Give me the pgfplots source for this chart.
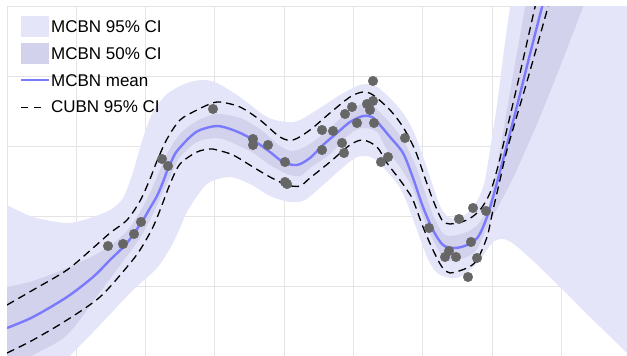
\documentclass[border=0pt]{standalone}
\usepackage{fontspec}
\setmainfont{Liberation Sans}
\usepackage{pgfplots}
\pgfplotsset{compat=1.18}
\usepgfplotslibrary{fillbetween}
\definecolor{ciA}{RGB}{229,229,249}
\definecolor{ciB}{RGB}{210,210,236}
\definecolor{meanc}{RGB}{122,122,255}
\definecolor{dotc}{RGB}{102,102,102}
\definecolor{gridc}{RGB}{228,228,228}
\begin{document}
\begin{tikzpicture}
\begin{axis}[
  scale only axis, width=620pt, height=349pt,
  xmin=7, xmax=627, ymin=7, ymax=356, y dir=reverse,
  clip bounding box=upper bound,
  xtick={7,76.3,145.6,214.9,284.2,353.5,422.8,492.1,561.4},
  ytick={7,77,147,217,287},
  xticklabels={}, yticklabels={},
  major tick length=0pt,
  grid=major, major grid style={gridc, line width=1pt},
  axis line style={draw=none},
  legend cell align=left,
  legend style={draw=none, fill=none, at={(0,1)}, anchor=north west,
    xshift=13pt, yshift=-8.5pt, font=\fontsize{17}{20}\selectfont,
    inner sep=0pt, row sep=3.4pt, column sep=0.5pt, nodes={inner sep=0pt}},
]
% MCBN 95% CI
\addplot[name path=uA, draw=none, forget plot, smooth] coordinates {
(7,205)(33,217)(67,223)(90,218)(110,210)(123,198)(133,172)(143,138)(153,112)(167,94)(187,83)(203,80)(217,83)(240,97)(267,117)(287,122)(300,120)(320,108)(340,95)(357,86)(367,84)(377,87)(390,98)(403,113)(413,130)(420,148)(427,168)(433,186)(440,206)(447,216)(455,219)(465,215)(473,207)(480,195)(485,180)(490,150)(497,105)(504,50)(510,7)(516,-40)(650,-40)};
\addplot[name path=lA, draw=none, forget plot, smooth] coordinates {
(7,420)(40,390)(70,356)(100,325)(133,290)(157,268)(173,243)(187,212)(200,192)(210,182)(230,177)(250,184)(270,196)(290,202)(305,200)(323,185)(340,170)(357,157)(373,158)(390,175)(400,188)(407,203)(417,230)(427,257)(437,273)(450,278)(460,277)(470,270)(480,260)(487,250)(493,242)(500,239)(507,240)(515,245)(530,258)(560,287)(590,317)(627,353)(650,376)};
\addplot[fill=ciA, draw=none, legend image code/.code={\path[draw=none,fill=none] (0pt,-11.5pt) rectangle (28pt,11.5pt);\fill[ciA, draw=none] (0pt,-9pt) rectangle (28pt,12pt);}] fill between[of=uA and lA];
\addlegendentry{MCBN 95\% CI}
% MCBN 50% CI
\addplot[name path=uB, draw=none, forget plot, smooth] coordinates {
(7,287)(33,281)(67,268)(93,256)(110,246)(127,231)(140,212)(150,193)(157,177)(167,154)(180,134)(197,121)(217,114)(240,118)(260,129)(280,146)(293,151)(310,144)(330,128)(350,110)(363,104)(373,106)(390,123)(403,140)(415,164)(425,192)(433,215)(442,232)(450,236)(467,232)(480,222)(490,201)(500,150)(510,92)(520,36)(525,7)(532,-40)(620,-40)};
\addplot[name path=lB, draw=none, forget plot, smooth] coordinates {
(7,370)(33,355)(67,335)(100,292)(127,256)(140,238)(153,214)(162,194)(170,177)(180,157)(197,142)(217,138)(233,143)(253,153)(270,165)(287,174)(300,176)(310,168)(330,154)(350,134)(363,128)(377,132)(387,150)(400,167)(407,178)(413,189)(423,217)(433,240)(442,256)(450,261)(467,257)(477,249)(487,228)(493,216)(500,203)(513,178)(537,124)(560,67)(583,7)(600,-40)(620,-40)};
\addplot[fill=ciB, draw=none, legend image code/.code={\path[draw=none,fill=none] (0pt,-11.5pt) rectangle (28pt,11.5pt);\fill[ciB, draw=none] (0pt,-9pt) rectangle (28pt,12pt);}] fill between[of=uB and lB];
\addlegendentry{MCBN 50\% CI}
% MCBN mean
\addplot[meanc, line width=2.4pt, smooth, legend image code/.code={\path[draw=none,fill=none] (0pt,-11.5pt) rectangle (28pt,11.5pt);\draw[meanc, line width=2.4pt] (0pt,1pt) -- (28pt,1pt);}] coordinates {
(7,328)(33,317)(67,297)(93,277)(110,260)(127,243)(143,220)(150,208)(157,196)(163,182)(167,171)(172,160)(177,151)(190,137)(200,130)(217,126)(233,130)(250,138)(270,152)(283,162)(297,165)(310,158)(323,145)(337,133)(350,122)(363,116)(372,117)(380,125)(390,137)(403,153)(413,178)(423,207)(433,230)(443,245)(455,248)(467,245)(478,237)(487,217)(495,190)(503,160)(516,110)(529,58)(542,7)(546,-8)};
\addlegendentry{MCBN mean}
% CUBN 95% CI
\addplot[black, line width=1.3pt, dash pattern=on 8pt off 5pt, smooth, legend image code/.code={\path[draw=none,fill=none] (0pt,-11.5pt) rectangle (28pt,11.5pt);\draw[black, line width=1.3pt, dash pattern=on 7pt off 6pt] (0pt,0pt) -- (21pt,0pt);}] coordinates {
(7,305)(33,290)(67,270)(93,248)(110,233)(127,220)(140,201)(150,179)(157,161)(167,139)(180,120)(197,110)(210,104)(220,102)(240,107)(260,120)(280,137)(293,140)(310,130)(330,113)(350,97)(363,92)(373,95)(390,110)(403,127)(415,150)(425,178)(433,200)(442,220)(450,224)(467,220)(480,210)(490,193)(497,170)(502,150)(518,82)(535,7)(538,-6)};
\addlegendentry{CUBN 95\% CI}
\addplot[black, line width=1.3pt, dash pattern=on 8pt off 5pt, smooth, forget plot] coordinates {
(7,353)(33,340)(67,320)(100,297)(127,267)(140,250)(153,227)(162,205)(170,184)(180,164)(197,152)(210,149)(217,150)(233,155)(253,167)(270,177)(287,185)(300,186)(310,178)(330,162)(350,145)(363,140)(377,147)(387,163)(400,180)(407,190)(413,200)(423,227)(433,250)(442,267)(450,273)(467,268)(477,260)(487,237)(493,210)(500,180)(507,150)(528,78)(548,7)(551,-4)};
% observations
\addplot[only marks, mark=*, mark size=4.8pt, color=dotc, mark options={fill=dotc, draw=dotc}, forget plot] coordinates {
(108,246)(123,244)(134,234)(141,222)(162,159)(168,166)(213,109)(253,139)(253,145)(268,145)(285,162)(285,182)(287,184)(322,130)(322,150)(333,131)(345,114)(342,143)(344,153)(352,107)(357,123)(367,104)(370,110)(373,101)(373,81)(374,123)(381,162)(388,157)(405,138)(429,228)(445,257)(449,251)(456,257)(459,219)(468,277)(471,242)(473,208)(477,258)(486,211)};
\end{axis}
\pgfresetboundingbox
\path[use as bounding box] (current axis.south east) rectangle ([xshift=-7pt,yshift=7pt]current axis.north west);
\end{tikzpicture}
\end{document}
